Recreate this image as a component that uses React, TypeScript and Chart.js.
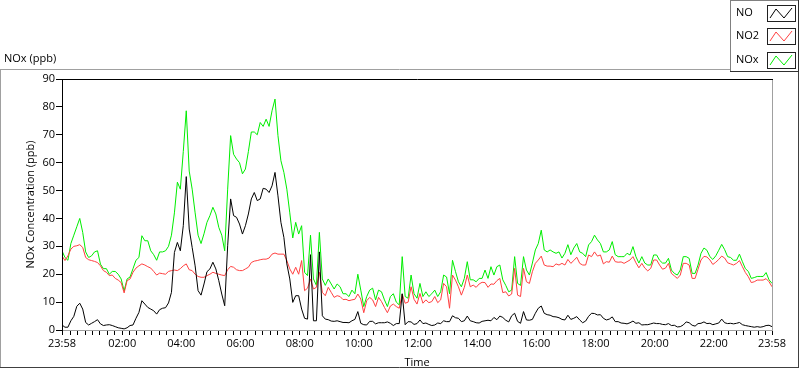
import React, { useEffect, useRef } from 'react';
import { Chart, registerables } from 'chart.js';

Chart.register(...registerables);

// Sampling interval of the series (minutes after 23:58)
const TIME_STEP_MIN = 6;

const NO_VALUES = [
  1.8, 1, 1, 3.3, 4.9, 8.5, 9.6, 7.5, 2.7, 1.8,
  2.4, 3, 3.7, 2.2, 1.6, 1.8, 1.9, 1.6, 1.2, 0.8,
  0.6, 0.4, 0.8, 1.6, 1.8, 4.2, 6.3, 10.5, 9.3, 8.1,
  7.5, 6.9, 5.7, 7.3, 7.8, 8, 9.7, 13.5, 27.8, 31.4,
  28.4, 37.4, 55, 36.2, 29.6, 23, 14.1, 12.5, 16.5, 20.9,
  21.9, 24.3, 21.9, 17.7, 12.9, 8.7, 30.2, 47, 41, 40.4,
  38, 34.4, 37.4, 41.6, 47, 49.3, 46.4, 47, 50.8, 50.5,
  49.3, 51.7, 56.5, 48.1, 38.6, 33.2, 23.7, 18.3, 9.9, 12.3,
  12.3, 7.5, 4.2, 3.9, 27, 3.3, 3.3, 28, 5.1, 3.9,
  3.7, 3.2, 3.1, 3.3, 3, 2.7, 2.7, 2.6, 3.3, 3.8,
  6.6, 2.4, 1.9, 1.8, 3.1, 3.1, 2.2, 2.6, 2.6, 2.6,
  2.9, 2.4, 1.6, 2.3, 2.3, 13, 1.9, 3, 2.9, 2,
  2.3, 3.6, 2.3, 2.5, 2, 1.6, 1.8, 2.5, 2.3, 3.3,
  3, 3, 5.1, 4.4, 4.2, 3, 3.3, 5, 3.3, 3,
  2.6, 2.5, 3.1, 3.3, 3.5, 3.3, 4.5, 3.7, 5, 4.5,
  3.5, 2.9, 5.1, 6, 3.1, 2.4, 6.6, 3.6, 3.5, 3.8,
  6, 7.8, 8.6, 6, 5.5, 5.3, 4.8, 4.7, 4.4, 3.8,
  3.6, 5.3, 3.8, 4.2, 4.8, 3.6, 2.6, 3.2, 4.9, 6,
  5.9, 5.4, 5.5, 4.2, 3.6, 3.9, 4.7, 3, 3, 2.5,
  2.4, 2.2, 2.6, 3.2, 2.4, 2.6, 1.8, 1.9, 1.9, 2.2,
  2.5, 2.3, 2.3, 2, 1.9, 2.3, 1.6, 1.7, 1.1, 1.2,
  1.8, 2.9, 2.6, 1.7, 1.4, 2.3, 2.4, 2.9, 2.3, 2.4,
  1.9, 2.2, 2.5, 3.9, 2.6, 2.3, 2.4, 2.2, 2.4, 2.7,
  1.9, 1.6, 1.4, 1.2, 1, 1.2, 1, 1.2, 1.6, 1.7, 1.2,
];

const NO2_VALUES = [
  26.6, 24.9, 26.6, 29, 30, 30.2, 30.6, 29.6, 26, 25.2,
  24.9, 24.6, 24.2, 23, 21.3, 20.7, 19.5, 19.7, 18.5, 17.9,
  17, 13.3, 17.7, 18.3, 20.7, 22.2, 23, 23.7, 23.3, 22.7,
  22.2, 21, 19.7, 20.4, 20.2, 20, 21, 21.3, 21.5, 21.3,
  22, 23, 23.7, 21.6, 21.3, 20, 19.2, 18.9, 18.9, 19.5,
  20, 20.7, 20.3, 20, 19.7, 19.5, 21.6, 22.8, 22.5, 21.6,
  21.3, 21.3, 21.9, 22.5, 24.2, 24.7, 24.9, 25.2, 25.4, 25.4,
  25.8, 27.2, 27.6, 27.2, 27.2, 27.2, 24.9, 21.9, 20, 22.5,
  20, 24.9, 14.1, 15, 18.3, 14.7, 15.3, 20.7, 13.5, 12.3,
  15.3, 13.5, 11.7, 12.3, 12, 10.9, 11, 10.5, 10.8, 11,
  12.9, 11.1, 6.2, 10.5, 11.7, 10.8, 8.4, 11.7, 10.2, 8.1,
  6.2, 8.6, 9.3, 8.4, 7.8, 12.9, 9.6, 10, 15.5, 11,
  9.3, 13.1, 9.6, 10.8, 9.8, 10.2, 12, 9.8, 10.8, 16.7,
  15.5, 7.8, 19.7, 17.9, 15.5, 12.5, 15.3, 19.7, 15.5, 16.1,
  15.3, 16.5, 17.1, 17, 15.3, 16.5, 16.4, 17.7, 18.5, 13.4,
  13.7, 12.2, 12.9, 22.1, 12.5, 12, 22.1, 17.3, 16.7, 20.9,
  23.9, 25.1, 26.5, 23.3, 22.9, 22.9, 22.7, 23.7, 23.3, 23.9,
  23.3, 25.3, 23.9, 24.9, 26.1, 23.9, 23.3, 23.3, 26.9, 26.3,
  28, 26.5, 26.9, 23.7, 24.5, 24.3, 26.5, 24.5, 24.3, 24.4,
  23.9, 24.5, 25.1, 26.3, 24.1, 22.3, 23.9, 22.2, 21.2, 22.1,
  25.1, 25.1, 23.3, 21.8, 22.2, 23.9, 20.3, 19.4, 18.5, 19.7,
  23.9, 23.9, 23.3, 18.5, 18.5, 21.8, 25.1, 26.4, 26.2, 25.1,
  23.5, 24.3, 25.3, 26.5, 25.8, 24.1, 23.7, 23.3, 23.9, 24.9,
  22.7, 20.6, 19.1, 17, 17.3, 17.9, 17.9, 17.9, 18.4, 17.3, 15.5,
];

const NOX_VALUES = [
  28.4, 26, 25, 31, 34, 37, 40, 35, 28, 26,
  26.6, 28, 28.4, 23.6, 22, 22, 20, 21, 21, 20,
  18.3, 14, 18.3, 19, 22, 25, 26, 33.8, 32, 32,
  28.4, 27, 25, 28, 28, 28.4, 30, 34, 42, 53,
  50.5, 64, 78.6, 57, 50.5, 42, 34, 31, 34.5, 38.6,
  41, 44, 41.6, 36.8, 34, 28.4, 50.5, 69.7, 63, 61.3,
  60, 56, 57.7, 64, 71, 71, 70, 74.4, 73, 75.6,
  73, 78.6, 82.8, 69.7, 60.7, 56.5, 50.5, 42, 33, 38.6,
  34.4, 37.4, 20.7, 19.5, 34, 18.3, 16, 35, 18.3, 16,
  18.3, 16.5, 14.7, 16.5, 15.5, 13, 13, 12, 14.3, 13,
  20, 14.3, 8.4, 12, 14.3, 15, 10.8, 14.3, 13.7, 10.8,
  8.4, 12, 13, 10, 9, 26.3, 12, 11.4, 19.7, 13,
  11.4, 16.7, 12, 13.7, 12, 13, 14.3, 12, 13.7, 19.7,
  19, 13, 25, 21, 17.3, 15.5, 18.5, 24.5, 18, 18,
  17.3, 18.5, 18.5, 21.5, 18.5, 22.7, 19.7, 22.7, 23.3, 18,
  16, 13.7, 14.3, 26.3, 16.7, 16, 26.3, 21.5, 19.7, 24,
  28.7, 31, 35.8, 28.7, 28, 28.7, 28, 27.5, 28, 25.8,
  27.5, 30.6, 27, 29.4, 31, 28, 27.5, 26.3, 30.5, 31.7,
  34, 32.3, 31, 28, 28, 28.7, 31.7, 27, 26.3, 26.3,
  26.3, 27.5, 26.9, 29.9, 26.3, 24, 26.3, 24, 23.3, 23.3,
  26.9, 26.9, 25, 24, 24, 25.7, 21.5, 20.3, 19.7, 21.5,
  26.3, 26.3, 25.7, 20.3, 20.3, 23.3, 27.5, 29.4, 28.6, 26.3,
  25.3, 26.6, 28.6, 30.7, 28.8, 26.3, 26, 25, 25, 27.2,
  24.5, 22, 21, 18.5, 18.8, 19.2, 19.2, 19.2, 20.6, 18, 16.7,
];

const SERIES_NAMES = ['NO', 'NO2', 'NOx'];
const SERIES_VALUES = [NO_VALUES, NO2_VALUES, NOX_VALUES];
const SERIES_COLORS = ['#000000', '#ff4040', '#00ee00'];

// Labelled x ticks (minutes after 23:58) and their texts
const X_MAJOR_MINUTES = [0, 122, 242, 362, 482, 602, 722, 842, 962, 1082, 1202, 1322, 1440];
const X_MAJOR_LABELS = ['23:58', '02:00', '04:00', '06:00', '08:00', '10:00', '12:00', '14:00', '16:00', '18:00', '20:00', '22:00', '23:58'];
const X_MINOR_START = 2; // 00:00
const X_MINOR_STEP = 15;
const X_MAX = 1440;

const Y_TICKS = [0, 10, 20, 30, 40, 50, 60, 70, 80, 90];

const CHART_TITLE = 'NOx (ppb)';
const Y_TITLE = 'NOx Concentration (ppb)';
const X_TITLE = 'Time';

const FONT_FAMILY = '"Open Sans", "Noto Sans", sans-serif';
const FONT_SIZE = 11;

function hline(ctx: CanvasRenderingContext2D, x1: number, x2: number, y: number, color: string) {
  ctx.strokeStyle = color;
  ctx.beginPath();
  ctx.moveTo(x1, y);
  ctx.lineTo(x2, y);
  ctx.stroke();
}
function vline(ctx: CanvasRenderingContext2D, x: number, y1: number, y2: number, color: string) {
  ctx.strokeStyle = color;
  ctx.beginPath();
  ctx.moveTo(x, y1);
  ctx.lineTo(x, y2);
  ctx.stroke();
}

const decorPlugin = {
  id: 'decor',
  beforeDraw(chart: any) {
    const ctx = chart.ctx as CanvasRenderingContext2D;
    ctx.save();
    ctx.fillStyle = '#ffffff';
    ctx.fillRect(0, 0, chart.width, chart.height);
    ctx.lineWidth = 1;
    // outer frame
    hline(ctx, 0, 799, 69.5, '#a0a0a0');
    vline(ctx, 0.5, 69, 368, '#a0a0a0');
    hline(ctx, 0, 799, 367.5, '#404040');
    vline(ctx, 798.5, 69, 368, '#404040');
    // chart caption
    ctx.fillStyle = '#000';
    ctx.font = `${FONT_SIZE}px ${FONT_FAMILY}`;
    ctx.textBaseline = 'middle';
    ctx.textAlign = 'left';
    ctx.fillText(CHART_TITLE, 4, 59);
    ctx.restore();
  },
  afterDatasetsDraw(chart: any) {
    const ctx = chart.ctx as CanvasRenderingContext2D;
    const a = chart.chartArea;
    ctx.save();
    ctx.lineWidth = 1;
    hline(ctx, a.left, a.right + 1, a.bottom + 0.5, '#a0a0a0');
    vline(ctx, a.right + 0.5, a.top, a.bottom + 1, '#a0a0a0');
    hline(ctx, a.left, a.right + 1, a.top + 0.5, '#000');
    vline(ctx, a.left + 0.5, a.top, a.bottom + 1, '#000');
    ctx.restore();
  },
  afterDraw(chart: any) {
    const ctx = chart.ctx as CanvasRenderingContext2D;
    ctx.save();
    ctx.lineWidth = 1;
    // legend box
    const lx = 730, ly = 0, lw = 68, lh = 71;
    ctx.fillStyle = '#ffffff';
    ctx.fillRect(lx, ly, lw, lh);
    hline(ctx, lx, lx + lw + 1, ly + 0.5, '#808080');
    vline(ctx, lx + 0.5, ly, ly + lh + 1, '#808080');
    hline(ctx, lx, lx + lw + 1, ly + lh + 0.5, '#303030');
    vline(ctx, lx + lw + 0.5, ly, ly + lh + 1, '#303030');
    ctx.font = `${FONT_SIZE}px ${FONT_FAMILY}`;
    ctx.textBaseline = 'middle';
    ctx.textAlign = 'left';
    SERIES_NAMES.forEach((name, i) => {
      const cy = 13 + i * 23.3;
      ctx.fillStyle = '#000';
      ctx.fillText(name, 736, cy);
      const bx = 767, by = Math.round(cy - 8), bw = 28, bh = 16;
      ctx.fillStyle = '#fff';
      ctx.fillRect(bx, by, bw, bh);
      ctx.strokeStyle = '#202020';
      ctx.strokeRect(bx + 0.5, by + 0.5, bw, bh);
      ctx.strokeStyle = SERIES_COLORS[i];
      ctx.beginPath();
      ctx.moveTo(bx + 3, by + 13);
      ctx.lineTo(bx + 9, by + 4);
      ctx.lineTo(bx + 17, by + 13);
      ctx.lineTo(bx + 25, by + 3);
      ctx.stroke();
    });
    ctx.restore();
  },
};

function buildXTicks(): number[] {
  const set = new Set<number>(X_MAJOR_MINUTES);
  for (let m = X_MINOR_START; m < X_MAX; m += X_MINOR_STEP) set.add(m);
  return Array.from(set).sort((p, q) => p - q);
}

export default function App() {
  const canvasRef = useRef<HTMLCanvasElement | null>(null);

  useEffect(() => {
    const canvas = canvasRef.current;
    if (!canvas) return;
    const xTicks = buildXTicks();
    const font = { family: FONT_FAMILY, size: FONT_SIZE };
    const datasets = SERIES_NAMES.map((name, i) => ({
      label: name,
      data: SERIES_VALUES[i].map((v, k) => ({ x: k * TIME_STEP_MIN, y: v })),
      borderColor: SERIES_COLORS[i],
      backgroundColor: SERIES_COLORS[i],
      borderWidth: 1,
      pointRadius: 0,
      borderJoinStyle: 'bevel' as const,
      tension: 0,
      fill: false,
    }));
    const chart = new Chart(canvas, {
      type: 'line',
      data: { datasets },
      options: {
        animation: false,
        responsive: false,
        devicePixelRatio: 1,
        parsing: false,
        normalized: true,
        events: [],
        layout: { padding: { top: 79, right: 28, left: 0, bottom: 0 } },
        plugins: {
          legend: { display: false },
          tooltip: { enabled: false },
          title: { display: false },
        },
        scales: {
          x: {
            type: 'linear',
            min: 0,
            max: X_MAX,
            afterBuildTicks: (scale: any) => {
              scale.ticks = xTicks.map((v) => ({ value: v }));
            },
            afterFit: (scale: any) => {
              scale.height = 39;
            },
            ticks: {
              autoSkip: false,
              maxRotation: 0,
              minRotation: 0,
              padding: 2,
              color: '#000',
              font,
              callback: (value: any) => {
                const k = X_MAJOR_MINUTES.indexOf(Number(value));
                return k >= 0 ? X_MAJOR_LABELS[k] : '';
              },
            },
            grid: {
              drawOnChartArea: false,
              drawTicks: true,
              tickLength: 5,
              color: '#000',
            },
            border: { display: false },
            title: {
              display: true,
              text: X_TITLE,
              color: '#000',
              font,
              padding: { top: 0, bottom: 0 },
            },
          },
          y: {
            type: 'linear',
            min: 0,
            max: 90,
            afterBuildTicks: (scale: any) => {
              scale.ticks = Y_TICKS.map((v) => ({ value: v }));
            },
            afterFit: (scale: any) => {
              scale.width = 62;
            },
            ticks: {
              padding: 1,
              color: '#000',
              font,
              callback: (value: any) => String(value),
            },
            grid: {
              drawOnChartArea: false,
              drawTicks: true,
              tickLength: 6,
              color: '#000',
            },
            border: { display: false },
            title: {
              display: true,
              text: Y_TITLE,
              color: '#000',
              font,
              padding: { top: 24, bottom: 0 },
            },
          },
        },
      },
      plugins: [decorPlugin],
    });
    return () => chart.destroy();
  }, []);

  return (
    <div style={{ position: 'absolute', left: 0, top: 0, width: 800, height: 369 }}>
      <canvas ref={canvasRef} width={800} height={369} style={{ display: 'block', width: 800, height: 369 }} />
    </div>
  );
}
